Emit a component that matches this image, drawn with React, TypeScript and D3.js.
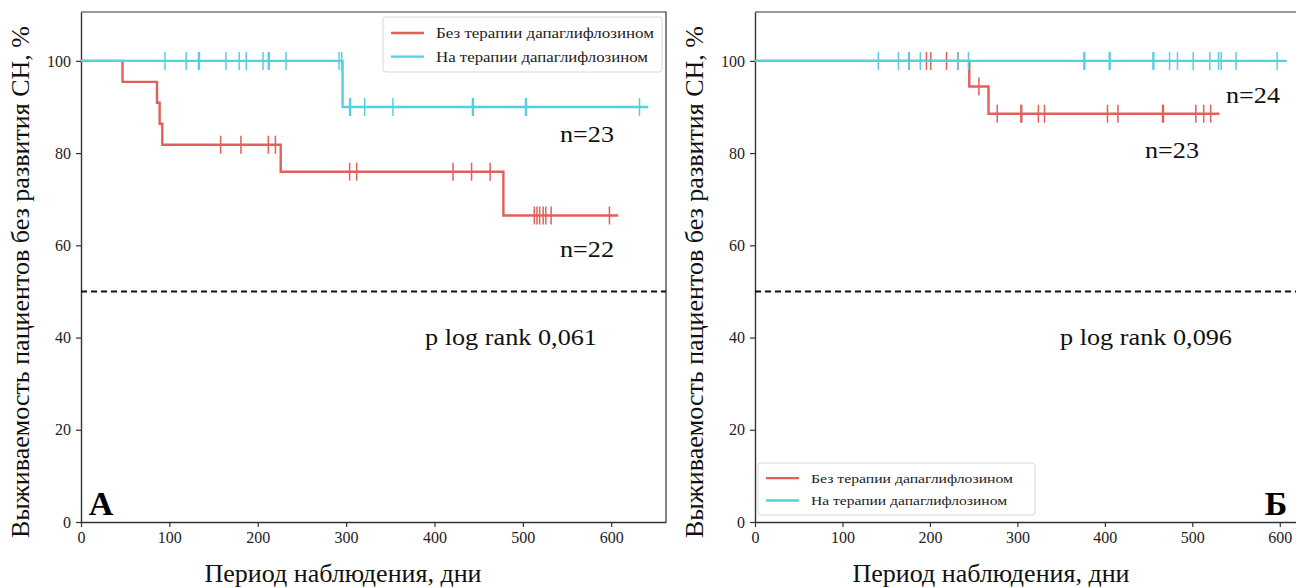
import React, { useEffect, useRef } from 'react'
import * as d3 from 'd3'

const xTicks = [0, 100, 200, 300, 400, 500, 600]
const yTicks = [0, 20, 40, 60, 80, 100]
const seriesNames = ['Без терапии дапаглифлозином', 'На терапии дапаглифлозином']

// panel А
const aNoTherapyEventDays = [47, 86, 89, 92, 226, 478]
const aNoTherapySurvival = [95.45, 90.91, 86.36, 81.82, 75.97, 66.47]
const aNoTherapyCensored = [158, 181, 212, 220, 304, 312, 421, 442, 463, 513, 516, 519, 523, 526, 532, 598]
const aNoTherapyLastDay = 608
const aTherapyEventDays = [296]
const aTherapySurvival = [90]
const aTherapyCensored = [95, 119, 133, 134, 164, 179, 187, 206, 212, 213, 232, 292, 295, 304, 305, 321, 353, 443, 444, 503, 504, 632]
const aTherapyLastDay = 642

// panel Б
const bNoTherapyEventDays = [245, 267]
const bNoTherapySurvival = [94.44, 88.54]
const bNoTherapyCensored = [176, 196, 201, 219, 232, 256, 277, 304, 305, 324, 331, 403, 415, 466, 467, 504, 513, 521]
const bNoTherapyLastDay = 531
const bTherapyEventDays: number[] = []
const bTherapySurvival: number[] = []
const bTherapyCensored = [141, 164, 176, 189, 232, 244, 376, 377, 405, 406, 455, 456, 474, 483, 501, 520, 530, 533, 550, 597]
const bTherapyLastDay = 608

const RED = '#e0605a'
const CYAN = '#55d0e0'
const SERIF = '"Liberation Serif", "Times New Roman", serif'

export default function App() {
    const chart = useRef(null)

    const width = 1296
    const height = 587

    const panels = [
        {
            left: 81, bottom: 522, top: 12, plotW: 585,
            series: [
                { days: aNoTherapyEventDays, surv: aNoTherapySurvival, cens: aNoTherapyCensored, last: aNoTherapyLastDay, color: RED },
                { days: aTherapyEventDays, surv: aTherapySurvival, cens: aTherapyCensored, last: aTherapyLastDay, color: CYAN },
            ],
            nLabels: [{ t: 'n=23', x: 587, y: 142 }, { t: 'n=22', x: 587, y: 257 }],
            pText: { t: 'p log rank 0,061', x: 511, y: 345 },
            letter: { t: 'А', x: 101, y: 515 },
            legend: { x: 383, y: 17, w: 279, h: 55, size: 14, len: 218 },
            xLabelX: 343,
        },
        {
            left: 755, bottom: 522, top: 12, plotW: 579,
            series: [
                { days: bNoTherapyEventDays, surv: bNoTherapySurvival, cens: bNoTherapyCensored, last: bNoTherapyLastDay, color: RED },
                { days: bTherapyEventDays, surv: bTherapySurvival, cens: bTherapyCensored, last: bTherapyLastDay, color: CYAN },
            ],
            nLabels: [{ t: 'n=24', x: 1253, y: 103 }, { t: 'n=23', x: 1172, y: 158 }],
            pText: { t: 'p log rank 0,096', x: 1146, y: 345 },
            letter: { t: 'Б', x: 1276, y: 515 },
            legend: { x: 758, y: 463, w: 277, h: 52, size: 13, len: 202 },
            xLabelX: 991,
        },
    ]

    const drawPanel = (svg, p) => {
        const x = d3.scaleLinear().domain([0, 662]).range([p.left, p.left + p.plotW])
        const y = d3.scaleLinear().domain([0, 110.6]).range([p.bottom, p.top])

        const g = svg.append('g')

        // frame
        g.append('path')
            .attr('d', `M${p.left},${p.top}H${p.left + p.plotW}V${p.bottom}`)
            .attr('fill', 'none').attr('stroke', '#333').attr('stroke-width', 1.2)

        g.append('g')
            .attr('transform', `translate(0,${p.bottom})`)
            .call(d3.axisBottom(x).tickValues(xTicks).tickSize(5).tickPadding(5).tickSizeOuter(0))
            .call(a => a.select('.domain').attr('stroke', '#333').attr('stroke-width', 1.4))
            .call(a => a.selectAll('.tick line').attr('stroke', '#333').attr('stroke-width', 1.2))
            .call(a => a.selectAll('text').attr('font-family', SERIF).attr('font-size', 16).attr('fill', '#222'))

        g.append('g')
            .attr('transform', `translate(${p.left},0)`)
            .call(d3.axisLeft(y).tickValues(yTicks).tickSize(5).tickPadding(5).tickSizeOuter(0))
            .call(a => a.select('.domain').attr('stroke', '#333').attr('stroke-width', 1.4))
            .call(a => a.selectAll('.tick line').attr('stroke', '#333').attr('stroke-width', 1.2))
            .call(a => a.selectAll('text').attr('font-family', SERIF).attr('font-size', 16).attr('fill', '#222'))

        // 50% line
        g.append('line')
            .attr('x1', x(0)).attr('x2', p.left + p.plotW)
            .attr('y1', y(50)).attr('y2', y(50))
            .attr('stroke', '#111').attr('stroke-width', 2).attr('stroke-dasharray', '6,4')

        const stepLine = d3.line().curve(d3.curveStepAfter).x(d => x(d[0])).y(d => y(d[1]))

        p.series.forEach(s => {
            const pts = [[0, 100], ...s.days.map((d, i) => [d, s.surv[i]])]
            pts.push([s.last, pts[pts.length - 1][1]])
            const survAt = t => {
                let v = 100
                s.days.forEach((d, i) => { if (d <= t) v = s.surv[i] })
                return v
            }
            g.append('path')
                .datum(pts)
                .attr('fill', 'none')
                .attr('stroke', s.color)
                .attr('stroke-width', 2.4)
                .attr('d', stepLine)
            g.selectAll(null)
                .data(s.cens)
                .join('line')
                .attr('x1', d => x(d)).attr('x2', d => x(d))
                .attr('y1', d => y(survAt(d)) - 9).attr('y2', d => y(survAt(d)) + 9)
                .attr('stroke', s.color).attr('stroke-width', 1.5)
        })

        p.nLabels.forEach(n => {
            g.append('text').attr('x', n.x).attr('y', n.y).attr('text-anchor', 'middle')
                .attr('font-family', SERIF).attr('font-size', 23).attr('fill', '#111')
                .attr('textLength', 54).attr('lengthAdjust', 'spacingAndGlyphs').text(n.t)
        })

        g.append('text').attr('x', p.pText.x).attr('y', p.pText.y).attr('text-anchor', 'middle')
            .attr('font-family', SERIF).attr('font-size', 23).attr('fill', '#111')
            .attr('textLength', 172).attr('lengthAdjust', 'spacingAndGlyphs').text(p.pText.t)

        g.append('text').attr('x', p.letter.x).attr('y', p.letter.y).attr('text-anchor', 'middle')
            .attr('font-family', SERIF).attr('font-size', 34).attr('font-weight', 'bold').attr('fill', '#000')
            .text(p.letter.t)

        // legend
        const L = p.legend
        const lg = g.append('g')
        lg.append('rect').attr('x', L.x).attr('y', L.y).attr('width', L.w).attr('height', L.h)
            .attr('rx', 3).attr('fill', '#fff').attr('fill-opacity', 0.85)
            .attr('stroke', '#d8d8d8').attr('stroke-width', 1)
        p.series.forEach((s, i) => {
            const ly = L.y + L.h * (i === 0 ? 0.29 : 0.72)
            lg.append('line').attr('x1', L.x + 8).attr('x2', L.x + 41).attr('y1', ly).attr('y2', ly)
                .attr('stroke', s.color).attr('stroke-width', 2.4)
            lg.append('text').attr('x', L.x + 53).attr('y', ly).attr('dy', '0.35em')
                .attr('font-family', SERIF).attr('font-size', L.size).attr('fill', '#222')
                .attr('textLength', L.len - (i === 0 ? 0 : 6)).attr('lengthAdjust', 'spacingAndGlyphs')
                .text(seriesNames[i])
        })

        // axis titles
        g.append('text')
            .attr('transform', `translate(${p.left - 52},${(p.top + p.bottom) / 2 + 15}) rotate(-90)`)
            .attr('text-anchor', 'middle')
            .attr('font-family', SERIF).attr('font-size', 25).attr('fill', '#111')
            .attr('textLength', 512).attr('lengthAdjust', 'spacingAndGlyphs')
            .text('Выживаемость пациентов без развития СН, %')
        g.append('text')
            .attr('x', p.xLabelX).attr('y', 582).attr('text-anchor', 'middle')
            .attr('font-family', SERIF).attr('font-size', 26).attr('fill', '#111')
            .attr('textLength', 277).attr('lengthAdjust', 'spacingAndGlyphs')
            .text('Период наблюдения, дни')
    }

    useEffect(() => {
        const svg = d3.select(chart.current)
        svg.selectAll('*').remove()
        panels.forEach(p => drawPanel(svg, p))
    }, [])

    return (
        <svg ref={chart} width={width} height={height}
            style={{ position: 'absolute', left: 0, top: 0, background: '#fff' }} />
    )
}
